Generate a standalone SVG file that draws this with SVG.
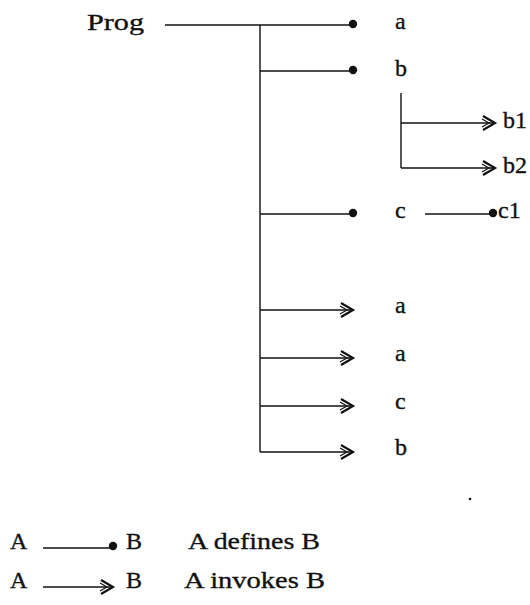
<svg xmlns="http://www.w3.org/2000/svg" width="530" height="605" viewBox="0 0 530 605">
<style>
.t{font-family:'Liberation Serif','DejaVu Serif','Times New Roman',serif;font-size:24px;fill:#111;stroke:#111;stroke-width:0.35}
.ln{stroke:#111;stroke-width:1.4;fill:none}
.ar{stroke:#111;stroke-width:1.4;fill:none;marker-end:url(#arr)}
.dot{fill:#111}
</style>
<defs>
<marker id="arr" markerUnits="userSpaceOnUse" markerWidth="18" markerHeight="20" viewBox="-15 -10 18 20" refX="0" refY="0" orient="auto" overflow="visible">
<path d="M-12,-7 L0,0 L-12,7" fill="none" stroke="#111" stroke-width="2.2" stroke-linejoin="miter"/>
<path d="M-13,-4 L-6,0 L-13,4" fill="none" stroke="#111" stroke-width="1.2"/>
</marker>
</defs>
<rect width="530" height="605" fill="#fff"/>
<g id="connectors">
<path class="ln" d="M165,25 H352"/>
<path class="ln" d="M260,25 V452"/>
<path class="ln" d="M260,71 H352"/>
<path class="ln" d="M260,214 H352"/>
<path class="ar" d="M260,310 H353"/>
<path class="ar" d="M260,358 H353"/>
<path class="ar" d="M260,406 H353"/>
<path class="ar" d="M260,452 H353"/>
<path class="ln" d="M401,93 V168"/>
<path class="ar" d="M401,123 H495"/>
<path class="ar" d="M401,168 H495"/>
<path class="ln" d="M425,214 H492"/>
<circle class="dot" cx="353" cy="24" r="4.2"/>
<circle class="dot" cx="353" cy="70" r="4.2"/>
<circle class="dot" cx="353" cy="213" r="4.2"/>
<circle class="dot" cx="493" cy="213" r="4.2"/>
</g>
<g id="node-prog"><text class="t" x="87" y="30" textLength="57" lengthAdjust="spacingAndGlyphs">Prog</text></g>
<g id="node-a1"><text class="t" x="395" y="29">a</text></g>
<g id="node-b1"><text class="t" x="395" y="76">b</text></g>
<g id="node-b1sub"><text class="t" x="503" y="128">b1</text></g>
<g id="node-b2sub"><text class="t" x="503" y="173">b2</text></g>
<g id="node-c1"><text class="t" x="395" y="218">c</text></g>
<g id="node-c1sub"><text class="t" x="498" y="218">c1</text></g>
<g id="node-a2"><text class="t" x="395" y="313">a</text></g>
<g id="node-a3"><text class="t" x="395" y="361">a</text></g>
<g id="node-c2"><text class="t" x="395" y="409">c</text></g>
<g id="node-b3"><text class="t" x="395" y="455">b</text></g>
<g id="legend">
<text class="t" x="10" y="549">A</text>
<path class="ln" d="M43,548 H112"/>
<circle class="dot" cx="113" cy="546" r="4.2"/>
<text class="t" x="126" y="549">B</text>
<text class="t" x="188" y="549" textLength="132" lengthAdjust="spacingAndGlyphs">A defines B</text>
<text class="t" x="10" y="588">A</text>
<path class="ar" d="M43,587 H113"/>
<text class="t" x="126" y="588">B</text>
<text class="t" x="184" y="588" textLength="141" lengthAdjust="spacingAndGlyphs">A invokes B</text>
</g>
<circle class="dot" cx="470" cy="499" r="1.3"/>
</svg>
